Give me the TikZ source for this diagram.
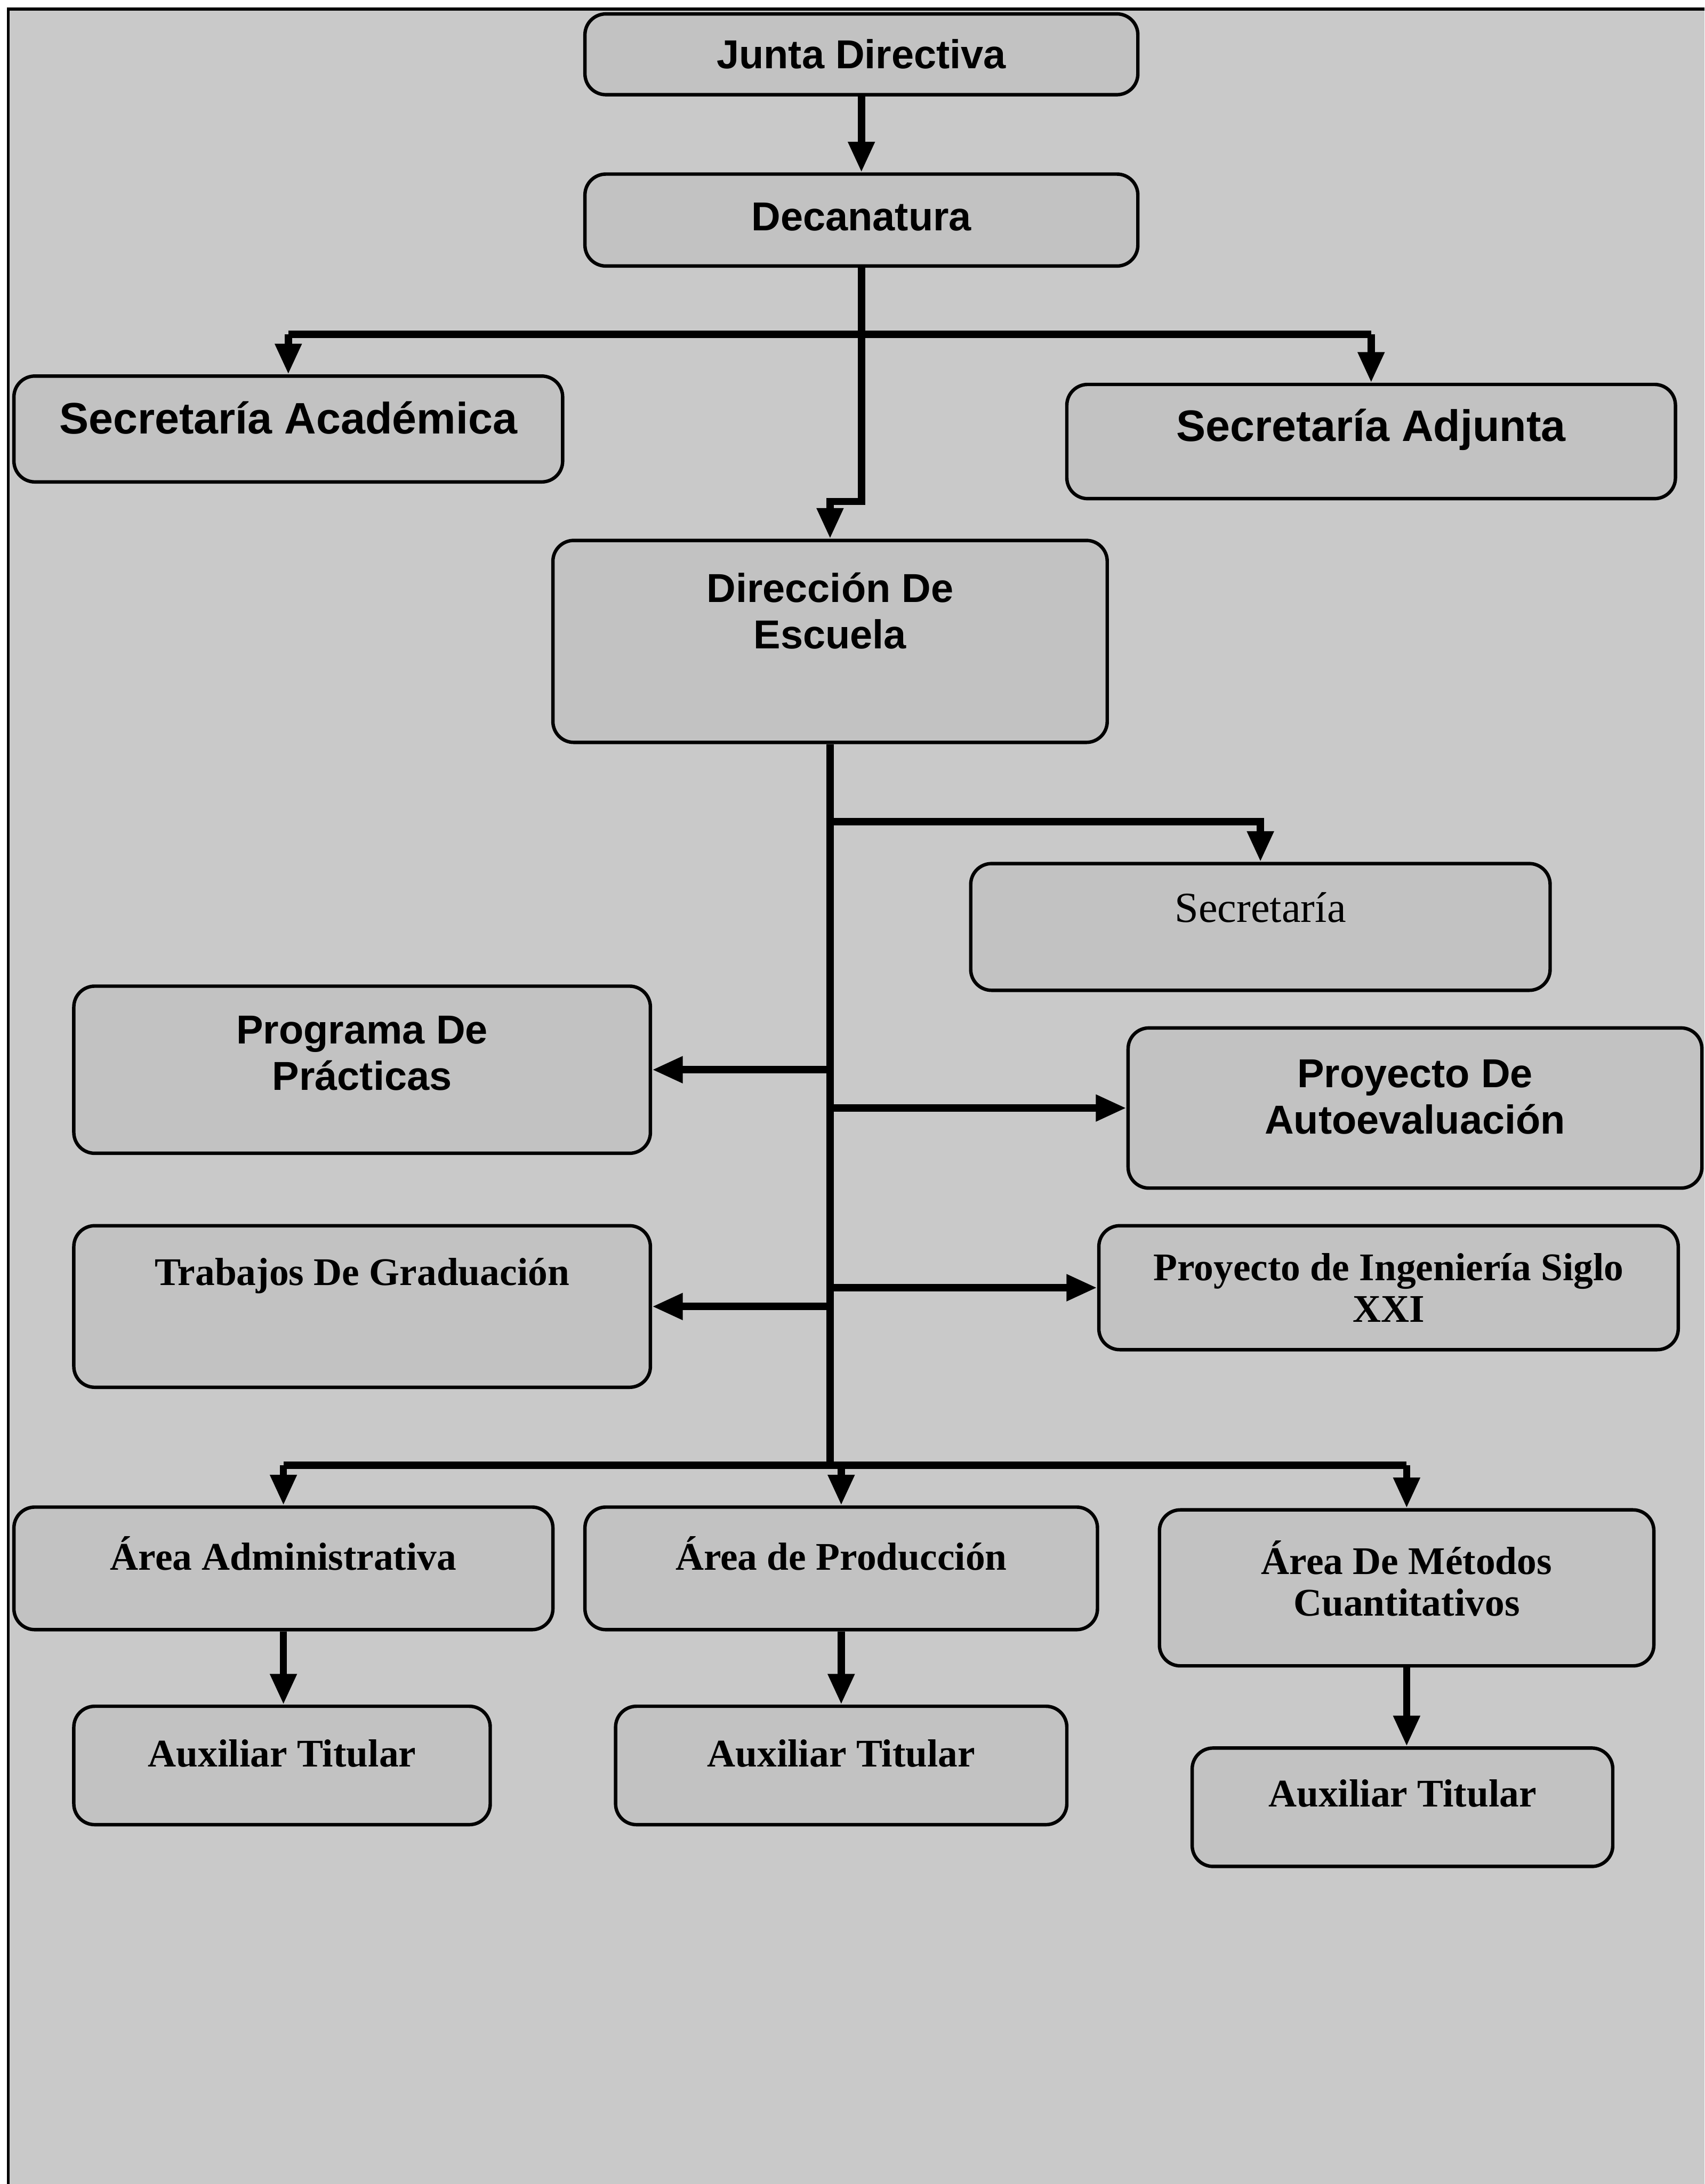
\documentclass[tikz,border=0pt]{standalone}
\usepackage{fontspec}
\setmainfont{Liberation Serif}
\setsansfont{Liberation Sans}
\usetikzlibrary{arrows.meta,positioning,calc}

\begin{document}
\begin{tikzpicture}[
  box/.style={draw, line width=1.4pt, rounded corners=0.3cm, fill=black!24, align=center, inner sep=0pt},
  sans/.style={font=\sffamily\bfseries\fontsize{16.5}{19}\selectfont},
  bigsans/.style={font=\sffamily\bfseries\fontsize{18}{21}\selectfont},
  serif/.style={font=\rmfamily\bfseries\fontsize{16}{17}\selectfont},
  plainserif/.style={font=\rmfamily\fontsize{17.5}{19}\selectfont},
  lift/.style={text depth=#1},
  bar/.style={line width=3pt},
  link/.style={line width=3pt, -{Triangle[length=0.44cm,width=0.36cm]}}
]
\useasboundingbox (0,0) rectangle (24.48,-31.36);
\fill[black!21] (0.12,-0.13) rectangle (24.48,-31.36);
\draw[line width=1.2pt] (0.12,-31.36) -- (0.12,-0.13) -- (24.48,-0.13);

\node[box, sans, minimum width=7.94cm, minimum height=1.16cm] (junta) at (12.37,-0.78) {Junta Directiva};
\node[box, sans, minimum width=7.94cm, minimum height=1.32cm, lift=0.1cm] (deca) at (12.37,-3.16) {Decanatura};
\node[box, bigsans, minimum width=7.88cm, minimum height=1.52cm, lift=0.32cm] (secacad) at (4.14,-6.16) {Secretaría Académica};
\node[box, bigsans, minimum width=8.74cm, minimum height=1.64cm, lift=0.48cm] (secadj) at (19.69,-6.34) {Secretaría Adjunta};
\node[box, sans, minimum width=7.96cm, minimum height=2.9cm, lift=0.88cm] (direc) at (11.92,-9.21) {Dirección De\\Escuela};
\node[box, plainserif, minimum width=8.32cm, minimum height=1.82cm, lift=0.56cm] (secre) at (18.1,-13.31) {Secretaría};
\node[box, sans, minimum width=8.28cm, minimum height=2.4cm, lift=0.48cm] (prog) at (5.2,-15.36) {Programa De\\Prácticas};
\node[box, sans, minimum width=8.24cm, minimum height=2.3cm, lift=0.32cm] (auto) at (20.32,-15.91) {Proyecto De\\Autoevaluación};
\node[box, serif, minimum width=8.28cm, minimum height=2.32cm, lift=1cm] (trab) at (5.2,-18.76) {Trabajos De Graduación};
\node[box, serif, minimum width=8.32cm, minimum height=1.78cm] (ing) at (19.94,-18.49) {Proyecto de Ingeniería Siglo\\XXI};
\node[box, serif, minimum width=7.74cm, minimum height=1.76cm, lift=0.44cm] (admin) at (4.07,-22.52) {Área Administrativa};
\node[box, serif, minimum width=7.36cm, minimum height=1.76cm, lift=0.44cm] (prod) at (12.08,-22.52) {Área de Producción};
\node[box, serif, minimum width=7.1cm, minimum height=2.24cm, lift=0.28cm] (metodos) at (20.2,-22.8) {Área De Métodos\\Cuantitativos};
\node[box, serif, minimum width=5.98cm, minimum height=1.7cm, lift=0.36cm] (aux1) at (4.05,-25.35) {Auxiliar Titular};
\node[box, serif, minimum width=6.48cm, minimum height=1.7cm, lift=0.36cm] (aux2) at (12.08,-25.35) {Auxiliar Titular};
\node[box, serif, minimum width=6.04cm, minimum height=1.7cm, lift=0.4cm] (aux3) at (20.14,-25.95) {Auxiliar Titular};

\coordinate (dbar) at (12.37,-4.8);
\coordinate (djog) at (12.37,-7.2);
\coordinate (sbar) at (11.92,-11.8);
\coordinate (tbot) at (11.92,-21.04);

\path[link] (junta) edge (deca);
\draw[bar] (dbar -| secacad.north) -- (dbar -| secadj.north);
\draw[link] (dbar -| secacad.north) -- (secacad.north);
\draw[link] (dbar -| secadj.north) -- (secadj.north);
\draw[link] (deca.south) |- (djog -| direc.north) -- (direc.north);

\draw[bar] (direc.south) -- (tbot);
\draw[link] (sbar) -| (secre.north);
\draw[link] (prog.east -| direc.south) -- (prog.east);
\draw[link] (auto.west -| direc.south) -- (auto.west);
\draw[link] (trab.east -| direc.south) -- (trab.east);
\draw[link] (ing.west -| direc.south) -- (ing.west);

\draw[bar] (tbot -| admin.north) -- (tbot -| metodos.north);
\draw[link] (tbot -| admin.north) -- (admin.north);
\draw[link] (tbot -| prod.north) -- (prod.north);
\draw[link] (tbot -| metodos.north) -- (metodos.north);

\draw[link] (admin.south) -- (aux1.north -| admin.south);
\draw[link] (prod.south) -- (aux2.north);
\draw[link] (metodos.south) -- (aux3.north -| metodos.south);
\end{tikzpicture}
\end{document}
